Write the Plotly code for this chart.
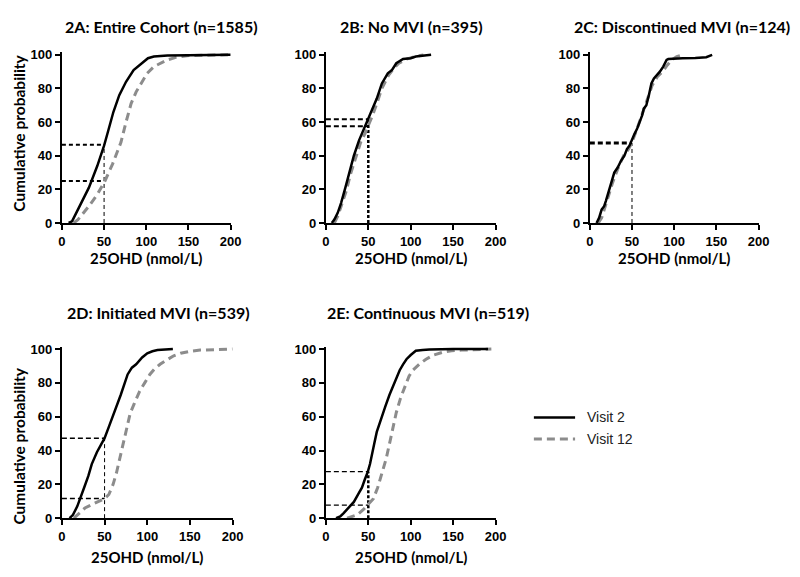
import plotly.graph_objects as go

# ---------------- data ----------------
panel_titles = ["2A: Entire Cohort (n=1585)", "2B: No MVI (n=395)", "2C: Discontinued MVI (n=124)",
                "2D: Initiated MVI (n=539)", "2E: Continuous MVI (n=519)"]
series_names = ["Visit 2", "Visit 12"]
x_ticks = [0, 50, 100, 150, 200]
y_ticks = [0, 20, 40, 60, 80, 100]
x_label = "25OHD (nmol/L)"
y_label = "Cumulative probability"

A_v2_x = [8, 12, 16, 22, 32, 42, 50, 55, 61, 68, 76, 85, 94, 102, 109, 125, 150, 200]
A_v2_y = [0, 1, 5, 11, 21, 34, 46, 55, 66, 76, 84, 91, 95, 98, 99, 99.6, 99.8, 100]
A_v12_x = [14, 19, 24, 32, 42, 51, 60, 70, 76, 82, 88, 94, 101, 109, 118, 125, 135, 148, 170, 197]
A_v12_y = [0, 2, 5, 10, 17, 25, 35, 48, 60, 71, 78, 83, 89, 93, 95.5, 97, 98.5, 99.5, 99.8, 100]

B_v2_x = [7, 10, 14, 18, 23, 28, 33, 39, 44, 50, 55, 60, 66, 73, 78, 83, 91, 100, 106, 115, 124]
B_v2_y = [0, 2, 6, 12, 21, 31, 40, 49, 55, 61.7, 68, 74, 83, 89, 91, 95, 97.5, 98, 99, 99.6, 100]
B_v12_x = [10, 14, 18, 24, 29, 35, 41, 46, 50, 55, 60, 66, 74, 80, 86, 95, 105, 115]
B_v12_y = [0, 4, 10, 19, 29, 39, 48, 53, 57.5, 64, 71, 80, 88, 92, 95, 97.5, 99, 100]

C_v2_x = [8, 11, 14, 17, 19, 23, 26, 29, 33, 37, 41, 44, 47, 50, 53, 56, 59, 62, 64, 67, 70, 73, 76,
          80, 83, 87, 91, 93, 100, 110, 125, 138, 145]
C_v2_y = [0, 3, 8, 10, 13, 20, 26, 30, 33, 37, 40, 44, 46, 50, 53, 56, 60, 64, 68, 70, 76, 83, 86,
          88, 90, 93, 97, 97.5, 97.8, 98, 98.2, 98.6, 100]
C_v12_x = [10, 14, 19, 24, 27, 33, 40, 46, 50, 56, 62, 68, 74, 80, 86, 92, 97, 103, 110]
C_v12_y = [0, 3, 11, 19, 24, 32, 40, 44, 48, 56, 65, 73, 82, 87, 90, 94, 97, 99, 100]

D_v2_x = [9, 13, 18, 22, 26, 31, 35, 41, 47, 50, 55, 62, 69, 77, 82, 87, 94, 100, 106, 112, 120, 130]
D_v2_y = [0, 2, 7, 12, 18, 25, 32, 39, 45, 47.3, 54, 63, 73, 85, 89, 91, 95, 97.5, 98.7, 99.4, 99.8, 100]
D_v12_x = [14, 20, 27, 35, 43, 50, 55, 60, 64, 68, 72, 76, 80, 85, 91, 97, 103, 108, 115, 123, 131,
           139, 150, 162, 180, 200]
D_v12_y = [0, 3, 6, 8, 10, 11.6, 14, 20, 27, 36, 45, 54, 62, 68, 75, 80, 85, 88, 91, 93.6, 96,
           97.5, 98.7, 99.4, 99.8, 100]

E_v2_x = [12, 17, 21, 27, 33, 38, 42.5, 46, 49.5, 52, 54, 57, 60, 65, 70, 75, 79, 83, 87, 91, 95,
          100, 106, 114, 122, 150, 191]
E_v2_y = [0, 1, 3, 6, 9.6, 14, 18, 23, 27.5, 32, 37.5, 44, 51, 59, 66, 73, 78, 82, 87.5, 91, 94,
          96.5, 99, 99.5, 99.8, 100, 100]
E_v12_x = [25, 30, 37, 44, 49.5, 56, 61, 66, 71, 75.4, 79, 83, 88, 93, 98, 102.5, 110, 118, 127,
           137, 148, 160, 180, 195]
E_v12_y = [0, 0.8, 2, 5, 7.7, 11.5, 18, 26, 35, 45, 54, 62.5, 71, 78, 84, 87.5, 91, 94, 96.5,
           98, 99, 99.4, 99.8, 100]

ref_cutoff = 50
A_ref = [46.5, 25]
B_ref = [61.7, 57.5]
C_ref = [47.6]
D_ref = [47.3, 11.6]
E_ref = [27.5, 7.7]

# ---------------- layout helpers ----------------
W, H = 800, 577
# pixel boxes of each plot area: (left, right, top(y=100), bottom(y=0))
boxes = [(59, 231, 51, 223), (328, 501, 51, 223), (597, 769, 51, 223),
         (59, 233, 352, 525), (328, 501, 352, 525)]
YMAX = 101.5

V2_STYLE = dict(color="black", width=2.5)
V12_STYLE = dict(color="#8c8c8c", width=3, dash="8px,5px")

panels = [
    (A_v2_x, A_v2_y, A_v12_x, A_v12_y, A_ref, ("4px,3px", 2), ("4px,3px", 1)),
    (B_v2_x, B_v2_y, B_v12_x, B_v12_y, B_ref, ("5px,3px", 2), ("3px,2px", 2.5)),
    (C_v2_x, C_v2_y, C_v12_x, C_v12_y, C_ref, ("5px,3px", 3), ("4px,3px", 1)),
    (D_v2_x, D_v2_y, D_v12_x, D_v12_y, D_ref, ("5px,3px", 1.5), ("4px,3px", 1)),
    (E_v2_x, E_v2_y, E_v12_x, E_v12_y, E_ref, ("5px,3px", 1.3), ("3px,2px", 2.5)),
]

fig = go.Figure()
tick_font = dict(family="Liberation Sans", size=13, color="black", weight="bold")
title_font = dict(family="Lato", size=16, color="black", weight="bold")
lab_font = dict(family="Lato", size=15, color="black", weight="bold")

for i, (vx, vy, wx, wy, refs, hstyle, vstyle) in enumerate(panels):
    n = "" if i == 0 else str(i + 1)
    xa, ya = "x" + n, "y" + n
    for p in refs:
        fig.add_trace(go.Scatter(x=[0, ref_cutoff], y=[p, p], mode="lines", xaxis=xa, yaxis=ya,
                                 line=dict(color="black", width=hstyle[1], dash=hstyle[0]),
                                 showlegend=False, hoverinfo="skip"))
    fig.add_trace(go.Scatter(x=[ref_cutoff, ref_cutoff], y=[0, max(refs)], mode="lines", xaxis=xa, yaxis=ya,
                             line=dict(color="black", width=vstyle[1], dash=vstyle[0]),
                             showlegend=False, hoverinfo="skip"))
    fig.add_trace(go.Scatter(x=wx, y=wy, mode="lines", xaxis=xa, yaxis=ya, name=series_names[1],
                             line=V12_STYLE, showlegend=False))
    fig.add_trace(go.Scatter(x=vx, y=vy, mode="lines", xaxis=xa, yaxis=ya, name=series_names[0],
                             line=V2_STYLE, showlegend=False))

    l, r, t, b = boxes[i]
    t_ext = b - (b - t) * YMAX / 100.0
    axis_common = dict(showline=True, linecolor="black", linewidth=2, ticks="outside",
                       ticklen=5, tickwidth=2, tickcolor="black", showgrid=False,
                       zeroline=False, tickfont=tick_font, fixedrange=True)
    fig.update_layout(**{
        ("xaxis" + n): dict(domain=[l / W, r / W], range=[0, 200], anchor=ya,
                            tickvals=x_ticks, **axis_common),
        ("yaxis" + n): dict(domain=[1 - b / H, 1 - t_ext / H], range=[0, YMAX], anchor=xa,
                            tickvals=y_ticks, **axis_common),
    })

# titles and axis labels as annotations
title_pos = [(160, 22), (415, 22), (691, 22), (157, 315), (432, 315)]
ann = []
for i, (px, py) in enumerate(title_pos):
    ann.append(dict(text=panel_titles[i], x=px / W, y=1 - py / H, xref="paper", yref="paper",
                    showarrow=False, xanchor="center", yanchor="middle", font=title_font))
for i, (l, r, t, b) in enumerate(boxes):
    py = 259 if i < 3 else 565
    ann.append(dict(text=x_label, x=(l + r) / 2 / W, y=1 - py / H, xref="paper", yref="paper",
                    showarrow=False, xanchor="center", yanchor="middle", font=lab_font))
for py in (131, 451):
    ann.append(dict(text=y_label, x=15 / W, y=1 - py / H, xref="paper", yref="paper",
                    showarrow=False, xanchor="center", yanchor="middle", textangle=-90,
                    font=dict(family="Lato", size=15.5, color="black", weight="bold")))

# legend (drawn manually to match the original placement)
leg_rows = [(series_names[0], V2_STYLE, 422), (series_names[1], V12_STYLE, 444)]
shapes = []
for name, style, py in leg_rows:
    shapes.append(dict(type="line", xref="paper", yref="paper", x0=540 / W, x1=582 / W,
                       y0=1 - py / H, y1=1 - py / H, line=style))
    ann.append(dict(text=name, x=592 / W, y=1 - py / H, xref="paper", yref="paper",
                    showarrow=False, xanchor="left", yanchor="middle",
                    font=dict(family="Liberation Sans", size=14, color="#222222")))

fig.update_layout(
    width=W, height=H, margin=dict(l=0, r=0, t=0, b=0),
    paper_bgcolor="white", plot_bgcolor="white",
    annotations=ann, shapes=shapes, showlegend=False,
)

fig.write_html("out.html", config={"displayModeBar": False},
               post_script="document.body.style.margin='0';")
